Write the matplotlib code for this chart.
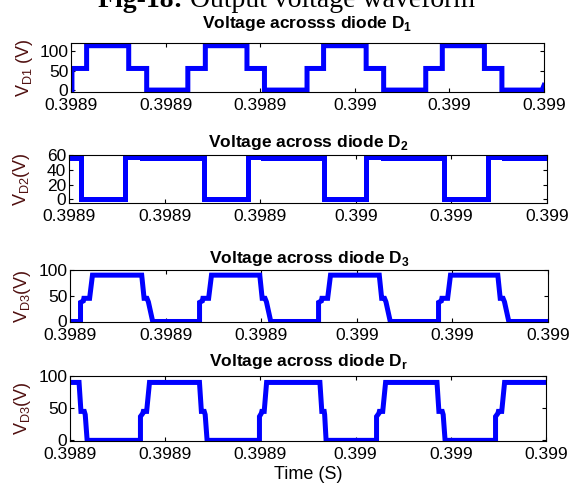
import matplotlib
matplotlib.use("Agg")
import matplotlib.pyplot as plt
from matplotlib import font_manager

# fonts: narrow sans if present, serif for the clipped caption on top
names = {f.name for f in font_manager.fontManager.ttflist}
sans = "Liberation Sans Narrow" if "Liberation Sans Narrow" in names else "Liberation Sans"
plt.rcParams["font.family"] = [sans, "DejaVu Sans"]
plt.rcParams["mathtext.fontset"] = "custom"
plt.rcParams["mathtext.rm"] = sans
plt.rcParams["mathtext.bf"] = sans + ":bold"

# time axis, in microseconds after 0.3989 s
t0 = 0.3989
xtick_us = [0, 20, 40, 60, 80, 100]
xtick_labels = ["0.3989", "0.3989", "0.3989", "0.399", "0.399", "0.399"]

# diode D1
d1_us = [0.2, 0.2, 3.3, 3.3, 12.2, 12.2, 16.0, 16.0, 24.7, 24.7, 28.4, 28.4,
         37.2, 37.2, 40.9, 40.9, 49.9, 49.9, 53.4, 53.4, 62.4, 62.4, 66.1, 66.1,
         75.0, 75.0, 78.5, 78.5, 87.4, 87.4, 91.1, 91.1, 99.6, 100.0]
d1_v = [0, 56, 56, 115, 115, 56, 56, 0, 0, 56, 56, 115,
        115, 56, 56, 0, 0, 56, 56, 115, 115, 56, 56, 0,
        0, 56, 56, 115, 115, 56, 56, 0, 0, 12]

# diode D2
d2_us = [0.0, 2.6, 2.6, 11.8, 11.8, 15.3, 15.3, 28.2, 28.2, 37.4, 37.4, 40.5, 40.5,
         53.3, 53.3, 62.2, 62.2, 65.7, 65.7, 78.4, 78.4, 87.6, 87.6, 90.9, 90.9, 100.0]
d2_v = [56, 56, 0, 0, 57.5, 57.5, 55.5, 55.5, 0, 0, 57.5, 57.5, 55.5,
        55.5, 0, 0, 57.5, 57.5, 55.5, 55.5, 0, 0, 57.5, 57.5, 55.5, 55.5]

# diode D3
d3_us = [0.0, 2.2, 2.2, 2.8, 2.9, 4.1, 4.7, 15.0, 15.5, 16.1, 16.4, 17.3,
         27.1, 27.1, 27.7, 27.8, 29.0, 29.6, 39.7, 40.2, 40.8, 41.1, 42.0,
         52.0, 52.0, 52.6, 52.7, 53.9, 54.5, 64.7, 65.2, 65.8, 66.1, 67.0,
         77.1, 77.1, 77.7, 77.8, 79.0, 79.6, 89.5, 90.0, 90.6, 90.9, 91.8, 100.0]
d3_v = [0, 0, 37, 40, 45, 45, 90, 90, 45, 45, 38, 0,
        0, 37, 40, 45, 45, 90, 90, 45, 45, 38, 0,
        0, 37, 40, 45, 45, 90, 90, 45, 45, 38, 0,
        0, 37, 40, 45, 45, 90, 90, 45, 45, 38, 0, 0]

# diode Dr
dr_us = [0.0, 1.9, 2.3, 3.0, 3.2, 3.6,
         14.8, 14.8, 15.3, 15.4, 16.1, 16.7, 27.2, 27.6, 28.2, 28.4, 28.8,
         39.8, 39.8, 40.2, 40.3, 40.8, 41.3, 52.5, 52.9, 53.4, 53.5, 53.8,
         64.4, 64.4, 64.9, 65.0, 65.7, 66.3, 77.1, 77.5, 78.2, 78.4, 78.8,
         89.4, 89.4, 89.9, 90.0, 90.7, 91.3, 100.0]
dr_v = [90, 90, 45, 45, 40, 0,
        0, 37, 42, 45, 45, 90, 90, 45, 45, 40, 0,
        0, 37, 42, 45, 45, 90, 90, 45, 45, 40, 0,
        0, 37, 42, 45, 45, 90, 90, 45, 45, 40, 0,
        0, 37, 42, 45, 45, 90, 90]

titles = [r"Voltage acrosss diode D$_\mathbf{1}$", r"Voltage across diode D$_\mathbf{2}$",
          r"Voltage across diode D$_\mathbf{3}$", r"Voltage across diode D$_\mathbf{r}$"]
ylabels = [r"V$_{\rm D1}$ (V)", r"V$_{\rm D2}$(V)", r"V$_{\rm D3}$(V)", r"V$_{\rm D3}$(V)"]
yticks = [[0, 50, 100], [0, 20, 40, 60], [0, 50, 100], [0, 50, 100]]
ylims = [(-5, 122), (-5, 60), (-1, 100), (-1, 100)]

W, H = 576, 486
# axes boxes in pixels: left, top, right, bottom
boxes = [(71, 43, 544, 92), (69, 155, 547, 203), (70, 270, 548, 322), (70, 376, 546, 441)]
title_pads = [11, 6, 5, 7]

fig = plt.figure(figsize=(W / 100, H / 100), dpi=100)

series = [(d1_us, d1_v), (d2_us, d2_v), (d3_us, d3_v), (dr_us, dr_v)]
for i, (us, v) in enumerate(series):
    l, t, r, b = boxes[i]
    ax = fig.add_axes([l / W, 1 - b / H, (r - l) / W, (b - t) / H])
    tt = [t0 + u * 1e-6 for u in us]
    ax.plot(tt, v, color="#0000ff", lw=3.6, solid_joinstyle="miter")
    ax.set_xlim(t0, t0 + 100e-6)
    ax.set_ylim(*ylims[i])
    ax.set_xticks([t0 + u * 1e-6 for u in xtick_us])
    ax.set_xticklabels(xtick_labels)
    ax.set_yticks(yticks[i])
    ax.tick_params(direction="in", length=3, width=0.8, top=True, right=True,
                   labelsize=12.5, pad=2)
    ax.tick_params(axis="x", pad=4)
    for s in ax.spines.values():
        s.set_linewidth(0.8)
    ax.set_title(titles[i], fontsize=12.5, fontweight="bold", pad=title_pads[i])
    ax.set_ylabel(ylabels[i], fontsize=13, color="#501010")
    ax.yaxis.set_label_coords(-0.077, 0.5)
    if i == 3:
        ax.set_xlabel("Time (S)", fontsize=13, labelpad=3)

# caption of the page, cut off at the top edge: bold part then regular part
serif = ["Liberation Serif", "DejaVu Serif"]
cap_y = 1 - 7 / H
bold_part = fig.text(98 / W, cap_y, "Fig-18: ", family=serif, fontweight="bold",
                     fontsize=20, va="baseline", ha="left")
rend = fig.canvas.get_renderer()
bw = bold_part.get_window_extent(rend).width
fig.text((98 + bw) / W, cap_y, "Output voltage waveform", family=serif,
         fontsize=20, va="baseline", ha="left")

fig.savefig("out.png", dpi=100)
